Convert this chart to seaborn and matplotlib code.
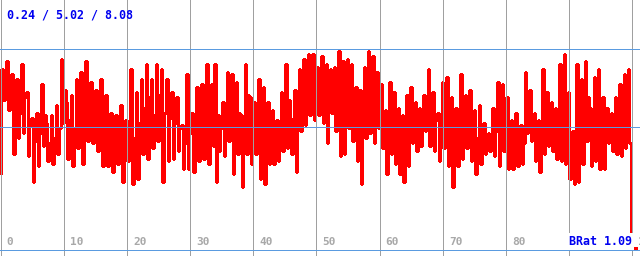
import numpy as np
import pandas as pd
import matplotlib
matplotlib.use("Agg")
import matplotlib.pyplot as plt
import seaborn as sns

# ---- data (values on a 0..10 scale) ----
seg1 = [3.2,
        7.3, 6.1, 6.9, 7.6, 5.7, 6.6, 7.1, 4.0, 5.9, 6.9, 4.6, 5.6,
        7.5, 4.8, 6.2, 6.4, 3.9, 5.1, 5.4, 2.9, 4.5, 5.6, 3.5, 4.8,
        6.7, 4.3, 5.5, 5.2, 3.7, 4.4, 5.5, 3.6, 4.6, 5.9, 4.0, 5.0,
        7.7, 5.2, 6.5, 6.0, 3.8, 5.3, 6.3, 3.5, 5.0, 6.9, 4.2, 5.7,
        7.2, 3.6, 6.0, 7.6, 4.5, 6.3, 6.8, 4.4, 5.8, 6.5, 4.1, 5.5,
        6.9, 3.5, 5.2]
seg2 = [6.3, 3.5, 5.0, 5.6, 3.3, 4.5, 5.5, 3.6, 4.3, 5.9, 2.9, 4.2,
        5.3, 3.7, 4.4, 7.3, 2.8, 4.6, 6.4, 3.0, 5.2, 6.9, 4.0, 5.8,
        7.5, 3.8, 6.2, 6.9, 4.2, 5.5, 7.5, 4.5, 6.3, 7.3, 2.9, 5.6,
        6.9, 3.7, 5.4, 6.4, 3.8, 5.2, 6.2, 4.1, 5.0, 5.1, 3.4, 4.4,
        7.1, 3.4, 4.8, 5.6, 3.3, 4.3, 6.6, 3.7, 5.0, 6.7, 3.8, 5.3,
        7.5, 3.6, 5.6]
seg3 = [6.7, 4.3, 7.5, 2.9, 5.5, 4.1, 5.0, 6.0, 3.9, 5.4, 7.2, 4.5,
        6.4, 7.1, 3.2, 5.8, 6.8, 4.0, 5.6, 5.5, 2.7, 4.5, 7.5, 4.0,
        6.3, 6.2, 3.6, 5.0, 6.0, 4.0, 5.2, 6.9, 3.0, 5.5, 6.6, 2.8,
        5.0, 6.0, 3.6, 5.1, 5.7, 3.6, 4.9, 5.3, 3.7, 4.7, 6.4, 4.1,
        5.2, 7.5, 4.2, 6.1, 5.4, 4.0, 4.9, 6.5, 3.3, 5.0, 7.3, 4.9,
        6.4, 7.7, 5.1, 6.8, 7.9, 5.5, 7.0, 7.9, 5.3, 6.6]
seg4 = [7.4, 5.5, 6.8, 7.8, 5.2, 6.7, 7.5, 4.4, 6.3, 7.3, 5.6, 6.9,
        7.4, 4.9, 6.2, 8.0, 3.9, 6.0, 7.6, 4.0, 6.6, 7.7, 5.0, 6.5,
        7.5, 4.5, 6.4, 6.6, 3.7, 5.2, 6.5, 2.8, 5.0, 7.4, 4.6, 6.5,
        8.0, 4.8, 7.0, 7.8, 4.4, 6.8, 7.2, 5.0, 6.2, 6.7, 4.2, 5.5,
        5.7, 3.2, 4.5, 6.8, 4.0, 5.4, 6.4, 3.6, 5.0, 5.8, 3.2, 4.6,
        5.5, 2.9, 4.2, 6.3, 3.5, 5.0, 6.6, 4.4, 5.4, 6.0, 4.1, 5.2,
        5.8, 4.3, 5.1]
seg5 = [6.3, 4.9, 5.6, 7.3, 4.3, 5.8, 6.4, 4.1, 5.3, 5.6, 3.7, 4.6,
        6.8, 4.2, 5.7, 7.0, 3.5, 5.5, 6.2, 2.7, 4.6, 5.8, 3.5, 4.8,
        7.1, 3.8, 5.6, 6.3, 4.2, 5.1, 6.5, 3.7, 5.4, 5.7, 3.2, 4.6,
        5.9, 3.6, 4.8, 5.2, 4.0, 4.6, 4.8, 4.1, 4.5, 5.8, 3.9, 4.9,
        6.8, 3.5, 5.6, 6.7, 4.1, 5.5, 6.2, 3.4, 4.9, 5.3, 3.4, 4.4,
        5.6, 3.5, 4.6, 5.1, 3.6, 4.4, 7.2, 4.8, 6.1]
seg6 = [6.5, 4.5, 5.5, 5.6, 3.7, 4.6, 5.3, 3.3, 4.2, 7.3, 4.0, 6.0,
        6.4, 4.3, 5.3, 6.0, 4.1, 5.1, 5.8, 3.8, 4.9, 7.5, 3.7, 5.6,
        7.9, 3.6, 5.8, 6.4, 3.0, 4.8, 4.9, 2.8, 4.0, 7.5, 2.9, 5.5,
        6.9, 3.6, 5.2, 7.6, 4.5, 6.2, 5.8, 3.5, 4.7, 7.0, 3.7, 5.3,
        7.3, 3.4, 5.5, 6.2, 3.4, 4.8, 5.8, 4.4, 5.0, 5.6, 4.1, 4.9,
        6.2, 4.0, 5.1, 6.7, 3.9, 5.4, 7.1, 4.2, 5.6, 7.3, 4.4]
tail_values = [0.3, 0.3]

# x-extent of each segment (data units on the 0..100 axis)
seg_bounds = [0.0, 16.7, 33.5, 50.2, 67.0, 83.8, 99.85]
tail_x = [99.95, 100.7]

stats_label = "0.24 / 5.02 / 8.08"
ratio_label = "BRat 1.09"
ref_levels = [0.24, 5.02, 8.08]
tick_values = list(range(0, 101, 10))
# the "90" label sits under the BRat box in the reference
tick_labels = ["0", "10", "20", "30", "40", "50", "60", "70", "80", "", "100"]

# ---- build the series ----
segs = [seg1, seg2, seg3, seg4, seg5, seg6]
xs, ys = [], []
for i, s in enumerate(segs):
    xs.extend(np.linspace(seg_bounds[i], seg_bounds[i + 1], len(s), endpoint=False))
    ys.extend(s)
xs.extend(tail_x)
ys.extend(tail_values)
df = pd.DataFrame({"x": xs, "y": ys})

sns.set_theme(style="white")
plt.rcParams["font.family"] = ["DejaVu Sans Mono", "DejaVu Sans"]

fig = plt.figure(figsize=(6.4, 2.56), dpi=100)
ax = fig.add_axes([0, 0, 1, 1])
ax.set_facecolor("white")

sns.lineplot(data=df, x="x", y="y", sort=False, estimator=None,
             color="#ff0000", linewidth=0.8, drawstyle="steps-mid",
             antialiased=False, ax=ax, zorder=1)

ax.set_xlim(-0.08, 101.2)
ax.set_ylim(0, 10)

for t in tick_values:
    ax.axvline(t, color="#a0a0a0", linewidth=0.72, antialiased=False, zorder=2)
for lv in ref_levels:
    ax.axhline(lv, color="#5a9be0", linewidth=0.72, antialiased=False, zorder=3)

for t, lab in zip(tick_values, tick_labels):
    if not lab:
        continue
    ax.annotate(lab, xy=(t, 0), xycoords=("data", "axes fraction"),
                xytext=(6, 11), textcoords="offset pixels",
                ha="left", va="baseline", fontsize=8, fontweight="bold",
                color="#a8a8a8", zorder=2.2, annotation_clip=False)

ax.annotate(stats_label, xy=(0, 1), xycoords="axes fraction",
            xytext=(7, -19), textcoords="offset pixels",
            ha="left", va="baseline", fontsize=8.4, fontweight="bold",
            color="#0000f0", zorder=5)

ax.annotate(ratio_label, xy=(1, 0), xycoords="axes fraction",
            xytext=(-8, 11), textcoords="offset pixels",
            ha="right", va="baseline", fontsize=8.4, fontweight="bold",
            color="#0000f0", zorder=2.5,
            bbox=dict(boxstyle="square,pad=0.15", facecolor="white",
                      edgecolor="none"))

ax.set_xticks([])
ax.set_yticks([])
ax.set_xlabel("")
ax.set_ylabel("")
for sp in ax.spines.values():
    sp.set_visible(False)
if ax.get_legend() is not None:
    ax.get_legend().remove()

fig.savefig("out.png", dpi=100)
